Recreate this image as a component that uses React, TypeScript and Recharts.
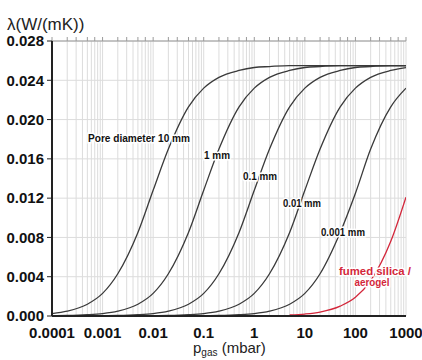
import { LineChart, Line, XAxis, YAxis, CartesianGrid } from "recharts";

// pressure in mbar (x) and thermal conductivity in W/(mK) (y)
const pressures = [
  0.0001, 0.0002, 0.0005, 0.001, 0.002, 0.005, 0.01, 0.02, 0.05, 0.1, 0.2,
  0.5, 1, 2, 5, 10, 20, 50, 100, 200, 500, 1000,
];

const pore10mm = [
  0.00025, 0.0005, 0.0012, 0.0023, 0.0043, 0.0085, 0.0128, 0.017, 0.0213,
  0.0232, 0.0243, 0.025, 0.0253, 0.0254, 0.0255, 0.0255, 0.0255, 0.0255,
  0.0255, 0.0255, 0.0255, 0.0255,
];
const pore1mm = [
  0.00003, 0.00005, 0.00013, 0.00025, 0.0005, 0.0012, 0.0023, 0.0043, 0.0085,
  0.0128, 0.017, 0.0213, 0.0232, 0.0243, 0.025, 0.0253, 0.0254, 0.0255,
  0.0255, 0.0255, 0.0255, 0.0255,
];
const pore01mm = [
  0, 0, 0.00001, 0.00003, 0.00005, 0.00013, 0.00025, 0.0005, 0.0012, 0.0023,
  0.0043, 0.0085, 0.0128, 0.017, 0.0213, 0.0232, 0.0243, 0.025, 0.0253,
  0.0254, 0.0255, 0.0255,
];
const pore001mm = [
  0, 0, 0, 0, 0, 0.00001, 0.00003, 0.00005, 0.00013, 0.00025, 0.0005, 0.0012,
  0.0023, 0.0043, 0.0085, 0.0128, 0.017, 0.0213, 0.0232, 0.0243, 0.025,
  0.0253,
];
const pore0001mm = [
  0, 0, 0, 0, 0, 0, 0, 0, 0, 0.00003, 0.00005, 0.00013, 0.00025, 0.0005,
  0.0012, 0.0023, 0.0043, 0.0085, 0.0125, 0.017, 0.0213, 0.0232,
];
const fumedSilica = [
  null, null, null, null, null, null, null, null, null, null, null, null,
  null, null, 0.0001, 0.0002, 0.0004, 0.001, 0.0019, 0.0036, 0.0076, 0.0121,
];

const decades = [0.0001, 0.001, 0.01, 0.1, 1, 10, 100, 1000];
const decadeLabels = ["0.0001", "0.001", "0.01", "0.1", "1", "10", "100", "1000"];
const yTicks = [0, 0.004, 0.008, 0.012, 0.016, 0.02, 0.024, 0.028];

const minorTicks: number[] = [];
decades.slice(0, -1).forEach((d) => {
  for (let m = 1; m <= 9; m++) minorTicks.push(Number((d * m).toPrecision(6)));
});
minorTicks.push(1000);

const data = pressures.map((p, i) => ({
  p,
  d10: pore10mm[i],
  d1: pore1mm[i],
  d01: pore01mm[i],
  d001: pore001mm[i],
  d0001: pore0001mm[i],
  silica: fumedSilica[i],
}));

const font = "'Liberation Sans', Arial, sans-serif";
const curveColor = "#3a3a3a";
const red = "#d3263a";

const xLabel = (v: number) => {
  const i = decades.findIndex((d) => Math.abs(v - d) / d < 1e-9);
  return i >= 0 ? decadeLabels[i] : "";
};

const curveLabels = [
  { text: "Pore diameter  10 mm", x: 139, y: 142, w: 102, size: 11, color: "#111" },
  { text: "1 mm", x: 217, y: 159, w: 26, size: 11, color: "#111" },
  { text: "0.1 mm", x: 260, y: 180, w: 34, size: 11, color: "#111" },
  { text: "0.01 mm", x: 302, y: 207, w: 38, size: 11, color: "#111" },
  { text: "0.001 mm", x: 343, y: 236, w: 44, size: 11, color: "#111" },
  { text: "fumed silica /", x: 375, y: 275, w: 72, size: 10, color: red },
  { text: "aerogel", x: 372, y: 286, w: 35, size: 10, color: red },
];

export default function App() {
  return (
    <div style={{ position: "absolute", left: 0, top: 0, width: 422, height: 360, background: "#fff", fontFamily: font }}>
      <LineChart width={422} height={360} data={data} margin={{ top: 36, right: 0, bottom: 14, left: 0 }}>
        <CartesianGrid xAxisId="b" yAxisId="l" stroke="#dcdcdc" strokeWidth={1} />
        <XAxis
          xAxisId="t"
          orientation="top"
          dataKey="p"
          type="number"
          scale="log"
          domain={[0.0001, 1000]}
          allowDataOverflow
          ticks={minorTicks}
          tickFormatter={() => ""}
          height={5}
          tickSize={4}
          stroke="#9a9a9a"
        />
        <XAxis
          xAxisId="b"
          dataKey="p"
          type="number"
          scale="log"
          domain={[0.0001, 1000]}
          allowDataOverflow
          ticks={minorTicks}
          interval={0}
          tickFormatter={xLabel}
          height={30}
          tickSize={0}
          tickMargin={11}
          tickLine={false}
          axisLine={{ stroke: "#222", strokeWidth: 2 }}
          tick={{ fill: "#111", fontSize: 15, fontWeight: "bold", fontFamily: font }}
        />
        <YAxis
          yAxisId="l"
          width={52}
          domain={[0, 0.028]}
          ticks={yTicks}
          interval={0}
          tickFormatter={(v: number) => v.toFixed(3)}
          tickSize={5}
          tickMargin={3}
          tickLine={{ stroke: "#222" }}
          axisLine={{ stroke: "#222", strokeWidth: 2 }}
          tick={{ fill: "#111", fontSize: 15, fontWeight: "bold", fontFamily: font }}
        />
        <YAxis
          yAxisId="r"
          orientation="right"
          width={16}
          domain={[0, 0.028]}
          ticks={yTicks}
          tickFormatter={() => ""}
          tickSize={4}
          axisLine={false}
          stroke="#9a9a9a"
        />
        <Line xAxisId="b" yAxisId="l" type="monotone" dataKey="d10" stroke={curveColor} strokeWidth={1.3} dot={false} isAnimationActive={false} />
        <Line xAxisId="b" yAxisId="l" type="monotone" dataKey="d1" stroke={curveColor} strokeWidth={1.3} dot={false} isAnimationActive={false} />
        <Line xAxisId="b" yAxisId="l" type="monotone" dataKey="d01" stroke={curveColor} strokeWidth={1.3} dot={false} isAnimationActive={false} />
        <Line xAxisId="b" yAxisId="l" type="monotone" dataKey="d001" stroke={curveColor} strokeWidth={1.3} dot={false} isAnimationActive={false} />
        <Line xAxisId="b" yAxisId="l" type="monotone" dataKey="d0001" stroke={curveColor} strokeWidth={1.3} dot={false} isAnimationActive={false} />
        <Line xAxisId="b" yAxisId="l" type="monotone" dataKey="silica" stroke={red} strokeWidth={1.3} dot={false} isAnimationActive={false} />
      </LineChart>
      <svg width={422} height={360} style={{ position: "absolute", left: 0, top: 0, pointerEvents: "none" }}>
        <text x={7} y={30} fontSize={17} fill="#222" fontFamily={font}>λ(W/(mK))</text>
        <text x={193} y={353} fontSize={15} fill="#222" fontFamily={font}>
          p<tspan fontSize={10} dy={3}>gas</tspan>
          <tspan dy={-3}> (mbar)</tspan>
        </text>
        {curveLabels.map((l) => (
          <text
            key={l.text}
            x={l.x}
            y={l.y}
            textAnchor="middle"
            fontSize={l.size}
            fontWeight="bold"
            fill={l.color}
            stroke="#fff"
            strokeWidth={3}
            paintOrder="stroke"
            textLength={l.w}
            lengthAdjust="spacingAndGlyphs"
            fontFamily={font}
          >
            {l.text}
          </text>
        ))}
      </svg>
    </div>
  );
}
